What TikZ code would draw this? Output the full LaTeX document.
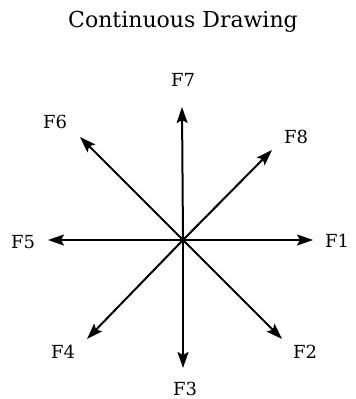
\documentclass[tikz,border=0pt]{standalone}
\usepackage{fontspec}
\setmainfont{DejaVu Serif}
\usetikzlibrary{arrows.meta}
\begin{document}
\begin{tikzpicture}[x=1pt,y=-1pt,
  ray/.style={line width=2pt,-{Stealth[length=16pt,width=11pt,inset=3pt]}},
  lbl/.style={inner sep=0pt,font=\fontsize{18}{21}\selectfont},
  ttl/.style={inner sep=0pt,font=\fontsize{22}{26}\selectfont}]
\useasboundingbox (0,0) rectangle (356,399);
\node[ttl] (title) at (183,22) {Continuous Drawing};
\coordinate (c) at (183,240);
\coordinate (t1) at (313,240);
\coordinate (t2) at (282,339);
\coordinate (t3) at (183,368);
\coordinate (t4) at (87,339);
\coordinate (t5) at (48,240);
\coordinate (t6) at (80,137);
\coordinate (t7) at (182,107);
\coordinate (t8) at (272,150);
\foreach \i in {1,...,8} \draw[ray] (c) -- (t\i);
\node[lbl] (f1) at (337,241) {F1};
\node[lbl] (f2) at (305,352) {F2};
\node[lbl] (f3) at (185,389) {F3};
\node[lbl] (f4) at (63,352) {F4};
\node[lbl] (f5) at (23,242) {F5};
\node[lbl] (f6) at (55,122) {F6};
\node[lbl] (f7) at (183,80) {F7};
\node[lbl] (f8) at (296,137) {F8};
\end{tikzpicture}
\end{document}
